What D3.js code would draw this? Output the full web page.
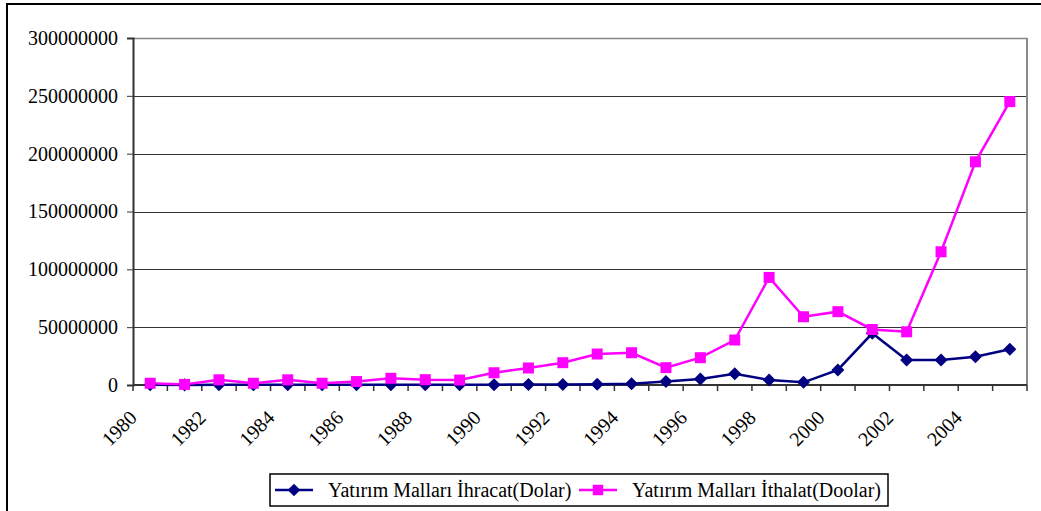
<!DOCTYPE html>
<html>
<head>
<meta charset="utf-8">
<script src="https://cdn.jsdelivr.net/npm/d3@7"></script>
<style>
  body { margin: 0; background: #fff; }
</style>
</head>
<body>
<div id="chart"></div>
<script>
var width = 1041, height = 511;
var serif = "Liberation Serif";

// data
var years = d3.range(1980, 2006).map(String);
var ihracat = [0.2e6, 0.1e6, 0.3e6, 0.2e6, 0.3e6, 0.2e6, 0.2e6, 0.3e6, 0.3e6, 0.3e6,
               0.3e6, 0.4e6, 0.5e6, 0.6e6, 1.0e6, 3.0e6, 5.2e6, 9.8e6, 4.3e6, 2.3e6,
               13e6, 44.7e6, 21.6e6, 21.6e6, 24.5e6, 30.9e6];
var ithalat = [1.5e6, 0.5e6, 4.5e6, 1.5e6, 4.5e6, 1.5e6, 3e6, 5.8e6, 4.6e6, 4.3e6,
               10.6e6, 14.7e6, 19.3e6, 26.8e6, 27.9e6, 15e6, 23.6e6, 38.9e6, 93e6, 59e6,
               63.4e6, 48e6, 46e6, 115.2e6, 193e6, 245e6];
var yTicks = [0, 50000000, 100000000, 150000000, 200000000, 250000000, 300000000];
var seriesNames = ["Yatırım Malları İhracat(Dolar)", "Yatırım Malları İthalat(Doolar)"];
var seriesColors = ["#000080", "#ff00ff"];

var svg = d3.select("#chart").append("svg")
    .attr("width", width)
    .attr("height", height)
    .style("font-family", serif);

// outer chart frame (cut by window)
svg.append("rect").attr("x", 7).attr("y", 4).attr("width", 1060).attr("height", 540)
    .attr("fill", "none").attr("stroke", "#000").attr("stroke-width", 2);

var plot = {left: 133, top: 38, right: 1027, bottom: 385};

var x = d3.scaleBand().domain(years).range([plot.left, plot.right]).padding(0);
var y = d3.scaleLinear().domain([0, 300000000]).range([plot.bottom, plot.top]);

//gridlines
svg.append("g").selectAll("line").data(yTicks.slice(1)).join("line")
    .attr("x1", plot.left).attr("x2", plot.right)
    .attr("y1", d => Math.round(y(d)) + 0.5).attr("y2", d => Math.round(y(d)) + 0.5)
    .attr("stroke", "#333").attr("stroke-width", 1);

// plot border right/top
svg.append("line").attr("x1", plot.right).attr("x2", plot.right).attr("y1", plot.top).attr("y2", plot.bottom)
    .attr("stroke", "#888").attr("stroke-width", 2);
svg.append("line").attr("x1", plot.left).attr("x2", plot.right).attr("y1", plot.top + 0.5).attr("y2", plot.top + 0.5)
    .attr("stroke", "#888").attr("stroke-width", 1.5);

// y axis
var yAxis = d3.axisLeft(y).tickValues(yTicks).tickSize(6).tickPadding(9).tickFormat(d3.format("d"));
var gy = svg.append("g").attr("transform", "translate(" + plot.left + ",0)").call(yAxis);
gy.attr("font-family", serif).attr("font-size", 20);
gy.select(".domain").attr("stroke", "#333").attr("stroke-width", 2);
gy.selectAll(".tick line").attr("stroke", "#333");
gy.selectAll("text").style("font-size", "20px").style("font-family", serif).attr("fill", "#000");

// x axis: ticks at category boundaries
var boundaries = years.map(d => x(d)).concat([plot.right]);
svg.append("line").attr("x1", plot.left).attr("x2", plot.right)
    .attr("y1", plot.bottom).attr("y2", plot.bottom).attr("stroke", "#333").attr("stroke-width", 2);
svg.append("g").selectAll("line").data(boundaries).join("line")
    .attr("x1", d => d).attr("x2", d => d)
    .attr("y1", plot.bottom).attr("y2", plot.bottom + 6)
    .attr("stroke", "#333").attr("stroke-width", 1.5);

svg.append("g").selectAll("text").data(years.filter((d, i) => i % 2 === 0)).join("text")
    .attr("transform", d => "translate(" + (x(d) + x.bandwidth() / 2 - 12) + "," + (plot.bottom + 34) + ") rotate(-45)")
    .attr("text-anchor", "end")
    .style("font-size", "20px")
    .style("font-family", serif)
    .text(d => d);

var line = d3.line()
    .x((d, i) => x(years[i]) + x.bandwidth() / 2)
    .y(d => y(d));

// series
svg.append("path").datum(ihracat).attr("d", line)
    .attr("fill", "none").attr("stroke", seriesColors[0]).attr("stroke-width", 2.5);
svg.append("path").datum(ithalat).attr("d", line)
    .attr("fill", "none").attr("stroke", seriesColors[1]).attr("stroke-width", 2.5);

svg.append("g").selectAll("path").data(ihracat).join("path")
    .attr("d", d3.symbol().type(d3.symbolSquare).size(85))
    .attr("transform", (d, i) => "translate(" + (x(years[i]) + x.bandwidth() / 2) + "," + y(d) + ") rotate(45)")
    .attr("fill", seriesColors[0]);

svg.append("g").selectAll("path").data(ithalat).join("path")
    .attr("transform", (d, i) => "translate(" + (x(years[i]) + x.bandwidth() / 2) + "," + y(d) + ")")
    .attr("d", d3.symbol().type(d3.symbolSquare).size(121))
    .attr("fill", seriesColors[1]);

// legend
var lg = svg.append("g");
lg.append("rect").attr("x", 270).attr("y", 474).attr("width", 618).attr("height", 32)
    .attr("fill", "#fff").attr("stroke", "#000").attr("stroke-width", 1.5);
var legendX = [275, 579];
seriesNames.forEach(function(name, i) {
  var g = lg.append("g").attr("transform", "translate(" + legendX[i] + ",490)");
  g.append("line").attr("x1", 0).attr("x2", 38).attr("stroke", seriesColors[i]).attr("stroke-width", 2.5);
  g.append("path").attr("transform", "translate(19,0)" + (i === 0 ? " rotate(45)" : ""))
    .attr("d", d3.symbol().type(d3.symbolSquare).size(i === 0 ? 80 : 110))
    .attr("fill", seriesColors[i]);
  g.append("text").attr("x", 53).attr("y", 7).style("font-size", "20px").style("font-family", serif).text(name);
});
</script>
</body>
</html>
